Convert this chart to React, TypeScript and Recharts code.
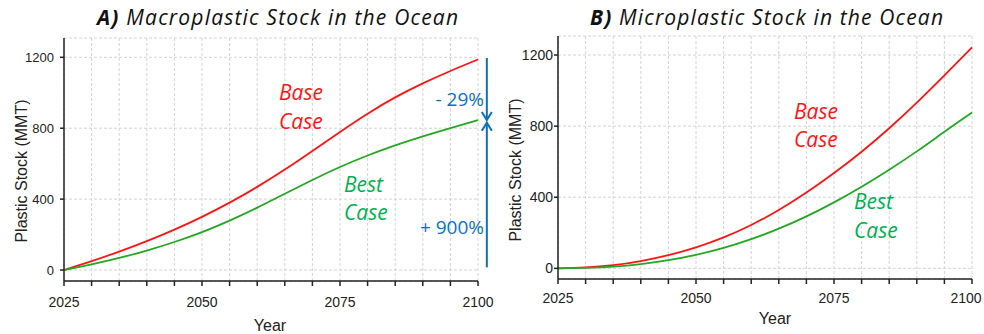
import React from "react";
import { LineChart, Line, XAxis, YAxis, CartesianGrid, ReferenceLine } from "recharts";

const years = [2025, 2030, 2035, 2040, 2045, 2050, 2055, 2060, 2065, 2070, 2075, 2080, 2085, 2090, 2095, 2100];

// A) macroplastic stock (MMT)
const macroBase = [0, 50, 104, 163, 228, 300, 380, 469, 567, 672, 779, 882, 974, 1053, 1123, 1188];
const macroBest = [0, 32, 68, 110, 158, 214, 279, 352, 430, 508, 581, 646, 703, 754, 801, 846];

// B) microplastic stock (MMT)
const microBase = [0, 5, 18, 41, 74, 118, 174, 244, 328, 426, 536, 656, 788, 932, 1085, 1243];
const microBest = [0, 3, 10, 24, 46, 76, 115, 164, 223, 292, 371, 459, 555, 658, 768, 876];

const xTicks = [2025, 2030, 2035, 2040, 2045, 2050, 2055, 2060, 2065, 2070, 2075, 2080, 2085, 2090, 2095, 2100];
const yTicks = [0, 400, 800, 1200];

const RED = "#ff1414";
const GREEN = "#22a822";
const TXT_GREEN = "#00b050";
const BLUE = "#0a70c0";
const AXIS_FONT = "Liberation Sans, Arial, sans-serif";
const NOTE_FONT = "Open Sans, sans-serif";

const toRows = (base: number[], best: number[]) =>
  years.map((y, i) => ({ year: y, base: base[i], best: best[i] }));

const macroRows = toRows(macroBase, macroBest);
const microRows = toRows(microBase, microBest);

// x tick: label only every 25 years; the last one can be nudged left
const makeXTick = (lastShift: number) => (p: any) => {
  const v = p.payload.value;
  if ((v - 2025) % 25 !== 0) return <g />;
  const isLast = v === 2100;
  return (
    <text x={p.x + (isLast ? lastShift : 0)} y={p.y + 11} textAnchor="middle"
      fontFamily={AXIS_FONT} fontSize={14} fill="#222">
      {v}
    </text>
  );
};

const makeYTick = (size: number) => (p: any) => (
  <text x={p.x} y={p.y + size * 0.36} textAnchor="end" fontFamily={AXIS_FONT} fontSize={size} fill="#222">
    {p.payload.value}
  </text>
);

// vertical arrow with an open chevron head at (x2, y2)
const Arrow = (p: any) => {
  const { x1, y1, x2, y2 } = p;
  const dir = y2 > y1 ? 1 : -1;
  return (
    <g stroke={BLUE} strokeWidth={2} fill="none">
      <line x1={x1} y1={y1} x2={x2} y2={y2} />
      <polyline points={`${x2 - 5},${y2 - dir * 8} ${x2},${y2} ${x2 + 5},${y2 - dir * 8}`} />
    </g>
  );
};

type PanelProps = {
  rows: any[];
  width: number;
  axisW: number;
  xAxisH: number;
  top: number;
  right: number;
  yDomain: [number, number];
  rightColor: string;
  yTickFont: number;
  yTickMargin: number;
  xTickMargin: number;
  lastShift: number;
  children?: React.ReactNode;
};

function Panel(p: PanelProps) {
  return (
    <LineChart
      width={p.width}
      height={334}
      data={p.rows}
      margin={{ top: p.top, right: p.right, left: 0, bottom: 0 }}
    >
      <CartesianGrid stroke="#d4d4d4" strokeDasharray="3 2" />
      <XAxis
        dataKey="year"
        type="number"
        domain={[2025, 2100]}
        ticks={xTicks}
        interval={0}
        height={p.xAxisH}
        tickSize={5}
        tickMargin={p.xTickMargin}
        stroke="#222"
        strokeWidth={1.5}
        tick={makeXTick(p.lastShift)}
      />
      <XAxis xAxisId="top" orientation="top" dataKey="year" type="number" domain={[2025, 2100]}
        height={0} tick={false} tickLine={false} stroke="#222" strokeWidth={1.2} />
      <YAxis
        type="number"
        domain={p.yDomain}
        ticks={yTicks}
        width={p.axisW}
        tickSize={4}
        tickMargin={p.yTickMargin}
        allowDataOverflow
        stroke="#222"
        strokeWidth={1.5}
        tick={makeYTick(p.yTickFont)}
      />
      <YAxis yAxisId="right" orientation="right" domain={p.yDomain} width={0}
        tick={false} tickLine={false} stroke={p.rightColor} strokeWidth={2} />
      <Line dataKey="base" type="natural" stroke={RED} strokeWidth={1.8} dot={false} isAnimationActive={false} />
      <Line dataKey="best" type="natural" stroke={GREEN} strokeWidth={1.8} dot={false} isAnimationActive={false} />
      {p.children}
    </LineChart>
  );
}

const arrowX = 2101.6;
const baseEnd = macroBase[macroBase.length - 1];
const bestEnd = macroBest[macroBest.length - 1];

export default function App() {
  const noteStyle = { fontFamily: NOTE_FONT, fontStyle: "italic" as const, fontSize: 21 };
  const titleStyle = { fontFamily: NOTE_FONT, fontStyle: "italic" as const, fontSize: 21, fill: "#111" };
  return (
    <div style={{ position: "absolute", left: 0, top: 0, width: 984, height: 334, background: "#fff", overflow: "hidden" }}>
      <div style={{ position: "absolute", left: 0, top: 0 }}>
        <Panel rows={macroRows} width={500} axisW={64} xAxisH={53} top={38} right={22}
          yDomain={[-62, 1309]} rightColor="#7f7f7f" yTickFont={13} yTickMargin={6} xTickMargin={10} lastShift={0}>
          <ReferenceLine segment={[{ x: arrowX, y: baseEnd + 8 }, { x: arrowX, y: bestEnd }]}
            ifOverflow="visible" shape={Arrow} />
          <ReferenceLine segment={[{ x: arrowX, y: 15 }, { x: arrowX, y: bestEnd - 15 }]}
            ifOverflow="visible" shape={Arrow} />
        </Panel>
      </div>
      <div style={{ position: "absolute", left: 492, top: 0 }}>
        <Panel rows={microRows} width={492} axisW={66} xAxisH={55} top={36} right={12}
          yDomain={[-60, 1307]} rightColor="#222" yTickFont={14} yTickMargin={1} xTickMargin={8} lastShift={-6} />
      </div>
      <svg width={984} height={334} style={{ position: "absolute", left: 0, top: 0, pointerEvents: "none" }}>
        {/* titles */}
        <text x={97} y={25} textLength={361} lengthAdjust="spacing" {...titleStyle}>
          <tspan fontWeight={700}>A)</tspan> Macroplastic Stock in the Ocean
        </text>
        <text x={590} y={25} textLength={353} lengthAdjust="spacing" {...titleStyle}>
          <tspan fontWeight={700}>B)</tspan> Microplastic Stock in the Ocean
        </text>

        {/* axis titles */}
        <text transform="translate(27,171) rotate(-90)" textAnchor="middle" fontFamily={AXIS_FONT} fontSize={16} fill="#222">
          Plastic Stock (MMT)
        </text>
        <text transform="translate(521,170) rotate(-90)" textAnchor="middle" fontFamily={AXIS_FONT} fontSize={16} fill="#222">
          Plastic Stock (MMT)
        </text>
        <text x={270} y={331} textAnchor="middle" fontFamily={AXIS_FONT} fontSize={16} fill="#222">Year</text>
        <text x={775} y={324} textAnchor="middle" fontFamily={AXIS_FONT} fontSize={16} fill="#222">Year</text>

        {/* panel A notes */}
        <text x={279} y={100} fill={RED} {...noteStyle}>Base</text>
        <text x={279} y={129} fill={RED} {...noteStyle}>Case</text>
        <text x={344} y={192} fill={TXT_GREEN} {...noteStyle}>Best</text>
        <text x={344} y={220} fill={TXT_GREEN} {...noteStyle}>Case</text>
        <text x={484} y={106} textAnchor="end" fontFamily={NOTE_FONT} fontSize={19} fill={BLUE}>- 29%</text>
        <text x={484} y={234} textAnchor="end" fontFamily={NOTE_FONT} fontSize={19} fill={BLUE}>+ 900%</text>

        {/* panel B notes */}
        <text x={794} y={119} fill={RED} {...noteStyle}>Base</text>
        <text x={794} y={147} fill={RED} {...noteStyle}>Case</text>
        <text x={854} y={209} fill={TXT_GREEN} {...noteStyle}>Best</text>
        <text x={854} y={238} fill={TXT_GREEN} {...noteStyle}>Case</text>
      </svg>
    </div>
  );
}
